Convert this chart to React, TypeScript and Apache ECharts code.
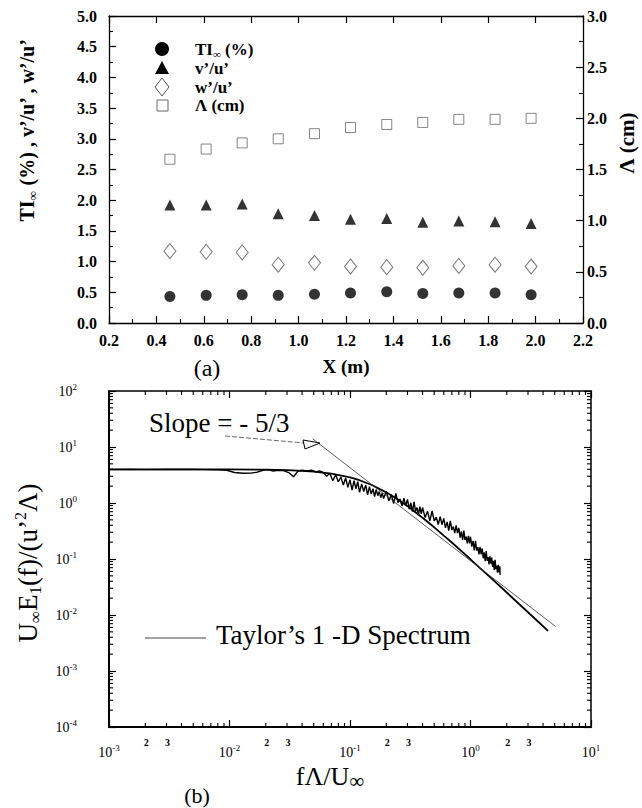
import React, { useEffect, useRef } from 'react';
import * as echarts from 'echarts';

// ---------- (a) data ----------
const xPositions = [0.457, 0.61, 0.762, 0.914, 1.067, 1.219, 1.372, 1.524, 1.676, 1.829, 1.981];
const tiInf = [0.43, 0.45, 0.46, 0.45, 0.47, 0.49, 0.51, 0.48, 0.49, 0.49, 0.46];
const vRatio = [1.92, 1.92, 1.94, 1.78, 1.75, 1.69, 1.7, 1.64, 1.66, 1.65, 1.62];
const wRatio = [1.17, 1.16, 1.15, 0.95, 0.98, 0.92, 0.91, 0.9, 0.93, 0.95, 0.92];
const lambdaCm = [1.6, 1.7, 1.76, 1.8, 1.85, 1.91, 1.94, 1.96, 1.99, 1.99, 2.0];

// ---------- (b) data ----------
const measuredSpectrum: [number, number][] = [
  [0.001, 3.95], [0.0015, 3.96], [0.002, 3.95], [0.003, 3.97], [0.004, 3.96], [0.005, 3.97],
  [0.006, 3.95], [0.008, 3.93], [0.0095, 3.85], [0.011, 3.5], [0.013, 3.4], [0.015, 3.42],
  [0.017, 3.55], [0.019, 3.85], [0.021, 3.95], [0.023, 3.7], [0.025, 3.85], [0.028, 3.8],
  [0.031, 3.5], [0.034, 2.95], [0.037, 3.7], [0.04, 3.85], [0.044, 3.75], [0.048, 3.85],
  [0.052, 3.6], [0.056, 3.75],
  [0.06, 3.5], [0.064, 3.0], [0.068, 3.4], [0.072, 2.5], [0.076, 3.2], [0.08, 2.4],
  [0.084, 2.9], [0.088, 2.1], [0.092, 2.8], [0.096, 1.9], [0.1, 2.6], [0.104, 1.7],
  [0.108, 2.5], [0.112, 1.8], [0.116, 2.4], [0.12, 1.55], [0.125, 2.2], [0.13, 1.6],
  [0.135, 2.1], [0.14, 1.4], [0.145, 1.95], [0.15, 1.45], [0.155, 1.8], [0.16, 1.3],
  [0.165, 1.75], [0.17, 1.35], [0.175, 1.6], [0.18, 1.25], [0.185, 1.5], [0.19, 1.2],
  [0.2, 1.62], [0.21, 1.09], [0.22, 1.41], [0.23, 0.98], [0.24, 1.49], [0.25, 1.01],
  [0.26, 1.18], [0.27, 0.88], [0.28, 1.22], [0.29, 0.9], [0.3, 1.16], [0.31, 0.78],
  [0.32, 1.01], [0.33, 0.7], [0.34, 1.05], [0.35, 0.71], [0.36, 0.83], [0.37, 0.62],
  [0.38, 0.86], [0.39, 0.64], [0.4, 0.83], [0.42, 0.55], [0.44, 0.71], [0.46, 0.48],
  [0.48, 0.72], [0.5, 0.48], [0.52, 0.56], [0.54, 0.41], [0.56, 0.57], [0.58, 0.41],
  [0.6, 0.53], [0.62, 0.36], [0.64, 0.46], [0.66, 0.32], [0.68, 0.48], [0.7, 0.33],
  [0.72, 0.38], [0.74, 0.29], [0.76, 0.4], [0.78, 0.29], [0.8, 0.36], [0.82, 0.24],
  [0.84, 0.31], [0.86, 0.22], [0.88, 0.32], [0.9, 0.22], [0.92, 0.25], [0.94, 0.19],
  [0.96, 0.26], [0.98, 0.19], [1.0, 0.25], [1.025, 0.166], [1.05, 0.21], [1.075, 0.142],
  [1.1, 0.21], [1.125, 0.142], [1.15, 0.163], [1.175, 0.121], [1.2, 0.165], [1.225, 0.121],
  [1.25, 0.154], [1.275, 0.103], [1.3, 0.132], [1.325, 0.091], [1.35, 0.138], [1.375, 0.093],
  [1.4, 0.108], [1.425, 0.08], [1.45, 0.112], [1.475, 0.083], [1.5, 0.106], [1.525, 0.072],
  [1.55, 0.093], [1.575, 0.064], [1.6, 0.097], [1.625, 0.066], [1.65, 0.076], [1.675, 0.057],
  [1.7, 0.079], [1.725, 0.058], [1.75, 0.074], [1.76, 0.052],
];
const taylorSpectrum: [number, number][] = [
  [0.001, 4.0], [0.003, 4.0], [0.01, 3.98], [0.02, 3.94], [0.03, 3.86], [0.04, 3.76],
  [0.05, 3.64], [0.07, 3.35], [0.1, 2.87], [0.12, 2.55], [0.15, 2.12], [0.2, 1.55],
  [0.25, 1.15], [0.3, 0.879], [0.4, 0.545], [0.5, 0.368], [0.6, 0.262], [0.7, 0.197],
  [0.85, 0.135], [1.0, 0.0988], [1.2, 0.0687], [1.5, 0.0445], [2.0, 0.0252], [3.0, 0.0112],
  [4.4, 0.0052],
];
const slopeLine: [number, number][] = [[0.049, 14.0], [5.1, 0.0062]];
const minorLabelDigits = [2, 3];

const SERIF = 'Liberation Serif, serif';

function buildOption() {
  // log minor ticks (2..9 per decade) for panel (b)
  const ticks: number[][] = [];
  for (let e = -3; e <= 0; e++) {
    for (let k = 2; k <= 9; k++) {
      const v = k * Math.pow(10, e);
      ticks.push([v, 1e-4, 0]);
      ticks.push([v, 100, 1]);
    }
  }
  for (let e = -4; e <= 1; e++) {
    for (let k = 2; k <= 9; k++) {
      const v = k * Math.pow(10, e);
      ticks.push([1e-3, v, 2]);
      ticks.push([10, v, 3]);
    }
  }
  const minorLabels: number[][] = [];
  for (let e = -3; e <= 0; e++) {
    minorLabelDigits.forEach((k) => minorLabels.push([k * Math.pow(10, e), 1e-4, k]));
  }

  const boldLabel = { color: '#000', fontFamily: SERIF, fontWeight: 'bold' as const, fontSize: 16 };
  const line13 = { show: true, onZero: false, lineStyle: { color: '#000', width: 1.3 } };
  const line2 = { show: true, onZero: false, lineStyle: { color: '#000', width: 2 } };
  const tickIn = { show: true, inside: true, length: 7, lineStyle: { color: '#000', width: 1.2 } };
  const minor = (n: number) => ({ show: true, splitNumber: n, length: 4, lineStyle: { color: '#000', width: 1.1 } });
  const logLabel = {
    margin: 16,
    color: '#000',
    formatter: (v: number) => `{b|10}{s|${Math.round(Math.log10(v))}}`,
    rich: {
      b: { fontFamily: SERIF, fontSize: 14, lineHeight: 18, color: '#000' },
      s: { fontFamily: SERIF, fontSize: 9, lineHeight: 10, verticalAlign: 'top', color: '#000' },
    },
  };
  const logLabelY = { ...logLabel, margin: 32 };

  const txt = (x: number, y: number, text: string, size: number, bold: boolean, extra: any = {}) => ({
    type: 'text',
    x,
    y,
    ...extra,
    style: {
      text,
      fontFamily: SERIF,
      fontSize: size,
      fontWeight: bold ? 'bold' : 'normal',
      fill: '#000',
      align: extra.align || 'center',
      verticalAlign: 'middle',
    },
  });

  return {
    animation: false,
    backgroundColor: '#fff',
    textStyle: { fontFamily: SERIF },
    grid: [
      { left: 109, top: 16, width: 474, height: 307 },
      { left: 109, top: 391, width: 482, height: 336 },
    ],
    xAxis: [
      {
        gridIndex: 0, type: 'value', min: 0.2, max: 2.2, interval: 0.2, position: 'bottom',
        axisLine: line13, axisTick: tickIn, minorTick: minor(2), splitLine: { show: false },
        axisLabel: { ...boldLabel, margin: 9, formatter: (v: number) => v.toFixed(1) },
        name: 'X (m)', nameLocation: 'middle', nameGap: 34,
        nameTextStyle: { color: '#000', fontFamily: SERIF, fontWeight: 'bold', fontSize: 19 },
      },
      {
        gridIndex: 0, type: 'value', min: 0.2, max: 2.2, interval: 0.2, position: 'top',
        axisLine: line13, axisTick: tickIn, splitLine: { show: false }, axisLabel: { show: false },
      },
      {
        gridIndex: 1, type: 'log', logBase: 10, min: 0.001, max: 10, splitNumber: 4, position: 'bottom',
        axisLine: line2, axisTick: tickIn, splitLine: { show: false }, axisLabel: logLabel,
      },
      {
        gridIndex: 1, type: 'log', logBase: 10, min: 0.001, max: 10, splitNumber: 4, position: 'top',
        axisLine: { ...line2, lineStyle: { color: '#000', width: 1.5 } }, axisTick: tickIn,
        splitLine: { show: false }, axisLabel: { show: false },
      },
    ],
    yAxis: [
      {
        gridIndex: 0, type: 'value', min: 0, max: 5, interval: 0.5, position: 'left',
        axisLine: line13, axisTick: tickIn, minorTick: minor(2), splitLine: { show: false },
        axisLabel: { ...boldLabel, margin: 12, formatter: (v: number) => v.toFixed(1) },
      },
      {
        gridIndex: 0, type: 'value', min: 0, max: 3, interval: 0.5, position: 'right',
        axisLine: line13, axisTick: tickIn, minorTick: minor(2), splitLine: { show: false },
        axisLabel: { ...boldLabel, margin: 4, formatter: (v: number) => v.toFixed(1) },
      },
      {
        gridIndex: 1, type: 'log', logBase: 10, min: 1e-4, max: 100, splitNumber: 6, position: 'left',
        axisLine: line2, axisTick: tickIn, splitLine: { show: false }, axisLabel: logLabelY,
      },
      {
        gridIndex: 1, type: 'log', logBase: 10, min: 1e-4, max: 100, splitNumber: 6, position: 'right',
        axisLine: { ...line2, lineStyle: { color: '#000', width: 1.5 } }, axisTick: tickIn,
        splitLine: { show: false }, axisLabel: { show: false },
      },
    ],
    series: [
      {
        name: 'TI∞ (%)', type: 'scatter', xAxisIndex: 0, yAxisIndex: 0, symbol: 'circle', symbolSize: 11,
        itemStyle: { color: '#000' }, data: xPositions.map((x, i) => [x, tiInf[i]]),
      },
      {
        name: "v'/u'", type: 'scatter', xAxisIndex: 0, yAxisIndex: 0, symbol: 'triangle', symbolSize: 11,
        itemStyle: { color: '#000' }, data: xPositions.map((x, i) => [x, vRatio[i]]),
      },
      {
        name: "w'/u'", type: 'scatter', xAxisIndex: 0, yAxisIndex: 0, symbol: 'diamond', symbolSize: [12, 15],
        itemStyle: { color: '#fff', borderColor: '#555', borderWidth: 1 }, data: xPositions.map((x, i) => [x, wRatio[i]]),
      },
      {
        name: 'Λ (cm)', type: 'scatter', xAxisIndex: 0, yAxisIndex: 1, symbol: 'rect', symbolSize: 10,
        itemStyle: { color: '#fff', borderColor: '#666', borderWidth: 1 }, data: xPositions.map((x, i) => [x, lambdaCm[i]]),
      },
      {
        name: 'measured', type: 'line', xAxisIndex: 2, yAxisIndex: 2, symbol: 'none', showSymbol: false,
        lineStyle: { color: '#000', width: 1.4 }, data: measuredSpectrum, z: 3,
      },
      {
        name: "Taylor's 1-D Spectrum", type: 'line', xAxisIndex: 2, yAxisIndex: 2, symbol: 'none', showSymbol: false,
        lineStyle: { color: '#000', width: 1.8 }, data: taylorSpectrum, z: 4,
      },
      {
        name: 'Slope -5/3', type: 'line', xAxisIndex: 2, yAxisIndex: 2, symbol: 'none', showSymbol: false,
        lineStyle: { color: '#333', width: 0.8 }, data: slopeLine, z: 4,
      },
      {
        name: 'logMinorTicks', type: 'custom', xAxisIndex: 2, yAxisIndex: 2, clip: false, silent: true,
        data: ticks,
        renderItem: (_p: any, api: any) => {
          const pt = api.coord([api.value(0), api.value(1)]);
          const d = api.value(2);
          const L = 4;
          let x2 = pt[0], y2 = pt[1];
          if (d === 0) y2 -= L; else if (d === 1) y2 += L; else if (d === 2) x2 += L; else x2 -= L;
          return { type: 'line', shape: { x1: pt[0], y1: pt[1], x2, y2 }, style: { stroke: '#000', lineWidth: 1.1 } };
        },
      },
      {
        name: 'logMinorLabels', type: 'custom', xAxisIndex: 2, yAxisIndex: 2, clip: false, silent: true,
        data: minorLabels,
        renderItem: (_p: any, api: any) => {
          const pt = api.coord([api.value(0), api.value(1)]);
          return {
            type: 'text', x: pt[0] + 1, y: pt[1] + 15,
            style: { text: String(api.value(2)), fontFamily: SERIF, fontSize: 10, fontWeight: 'bold', fill: '#000', align: 'center', verticalAlign: 'middle' },
          };
        },
      },
    ],
    graphic: [
      // panel (a) legend
      { type: 'circle', shape: { cx: 162, cy: 49, r: 7 }, style: { fill: '#000' } },
      { type: 'polygon', shape: { points: [[162, 61], [169, 74], [155, 74]] }, style: { fill: '#000' } },
      { type: 'polygon', shape: { points: [[162, 78], [169, 87], [162, 96], [155, 87]] }, style: { fill: '#fff', stroke: '#555', lineWidth: 1 } },
      { type: 'rect', shape: { x: 157, y: 100, width: 11, height: 11 }, style: { fill: '#fff', stroke: '#666', lineWidth: 1 } },
      {
        type: 'text', x: 195, y: 49,
        style: {
          text: '{a|TI}{s|∞}{a| (%)}', fill: '#000', verticalAlign: 'middle',
          rich: {
            a: { fontFamily: SERIF, fontWeight: 'bold', fontSize: 17, lineHeight: 20 },
            s: { fontFamily: SERIF, fontWeight: 'bold', fontSize: 11, lineHeight: 12, verticalAlign: 'bottom' },
          },
        },
      },
      txt(195, 68, 'v’/u’', 17, true, { align: 'left' }),
      txt(195, 87, 'w’/u’', 17, true, { align: 'left' }),
      txt(195, 105, 'Λ (cm)', 17, true, { align: 'left' }),
      // panel (a) axis titles
      {
        type: 'text', x: 27, y: 130, rotation: Math.PI / 2,
        style: {
          text: '{a|TI}{s|∞}{a| (%) , v’/u’ , w’/u’}', fill: '#000', align: 'center', verticalAlign: 'middle',
          rich: {
            a: { fontFamily: SERIF, fontWeight: 'bold', fontSize: 20, lineHeight: 24 },
            s: { fontFamily: SERIF, fontWeight: 'bold', fontSize: 13, lineHeight: 14, verticalAlign: 'bottom' },
          },
        },
      },
      txt(627, 143, 'Λ (cm)', 21, true, { rotation: Math.PI / 2 }),
      txt(207, 368, '(a)', 24, false),
      // panel (b) annotations
      txt(149, 423, 'Slope = - 5/3', 27, false, { align: 'left' }),
      { type: 'polyline', shape: { points: [[225, 436], [304, 443]] }, style: { stroke: '#444', lineWidth: 0.8, lineDash: [5, 2] } },
      { type: 'polygon', shape: { points: [[303, 440], [305, 449], [320, 443]] }, style: { fill: 'none', stroke: '#000', lineWidth: 1 } },
      { type: 'polyline', shape: { points: [[145, 638], [206, 638]] }, style: { stroke: '#444', lineWidth: 1 } },
      txt(216, 635, 'Taylor’s 1 -D Spectrum', 27, false, { align: 'left' }),
      {
        type: 'text', x: 28, y: 563, rotation: Math.PI / 2,
        style: {
          text: '{a|U}{s|∞}{a|E}{s|1}{a|(f)/(u’}{p|2}{a|Λ)}', fill: '#000', align: 'center', verticalAlign: 'middle',
          rich: {
            a: { fontFamily: SERIF, fontSize: 27, lineHeight: 32 },
            s: { fontFamily: SERIF, fontSize: 17, lineHeight: 18, verticalAlign: 'bottom' },
            p: { fontFamily: SERIF, fontSize: 16, lineHeight: 18, verticalAlign: 'top' },
          },
        },
      },
      {
        type: 'text', x: 330, y: 776,
        style: {
          text: '{a|fΛ/U}{s|∞}', fill: '#000', align: 'center', verticalAlign: 'middle',
          rich: {
            a: { fontFamily: SERIF, fontSize: 26, lineHeight: 30 },
            s: { fontFamily: SERIF, fontSize: 21, lineHeight: 24, verticalAlign: 'bottom' },
          },
        },
      },
      txt(197, 795, '(b)', 22, false),
    ],
  };
}

export default function App() {
  const ref = useRef<HTMLDivElement>(null);
  useEffect(() => {
    document.body.style.margin = '0';
    const chart = echarts.init(ref.current!, undefined, { renderer: 'svg' });
    chart.setOption(buildOption() as any);
    return () => chart.dispose();
  }, []);
  return <div ref={ref} style={{ width: 642, height: 808 }} />;
}
